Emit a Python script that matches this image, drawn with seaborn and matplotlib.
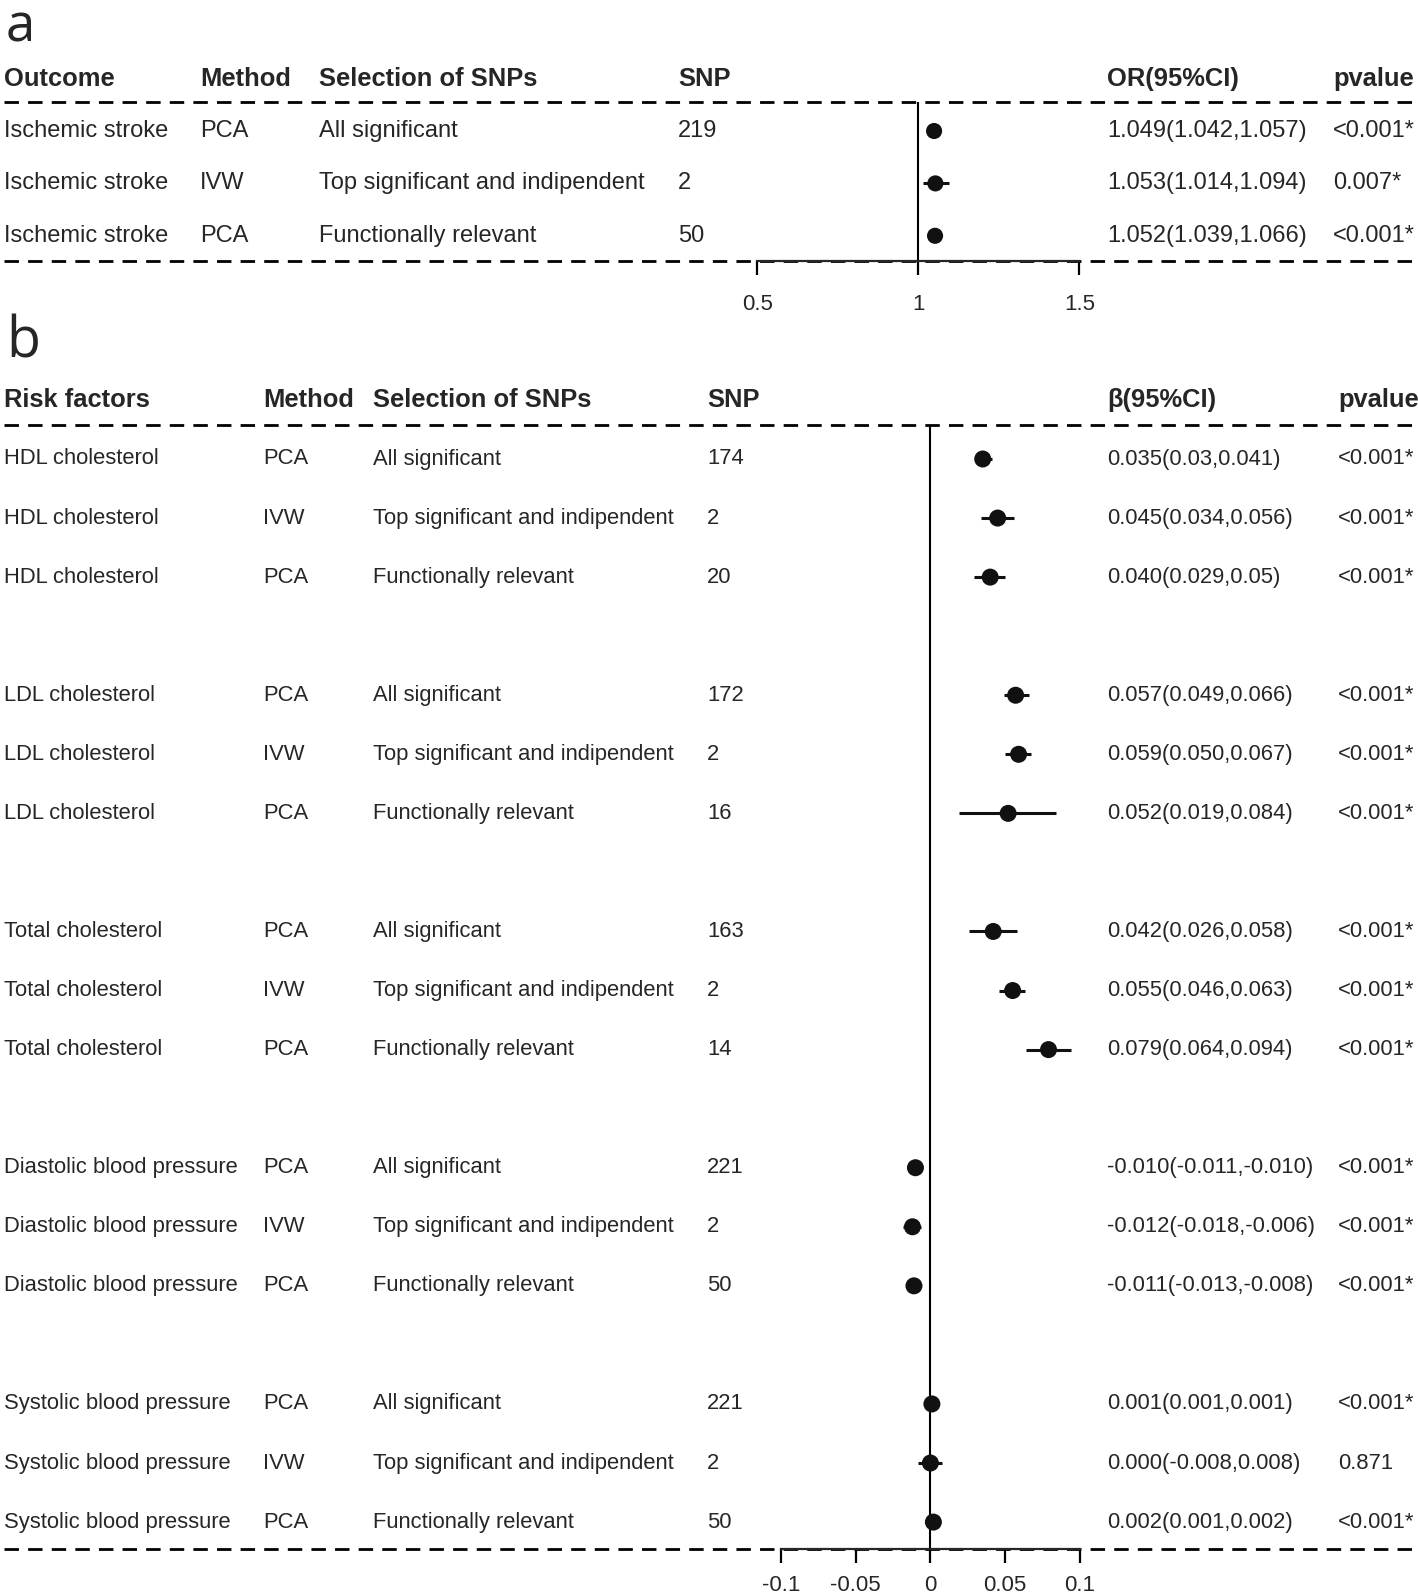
import numpy as np
import pandas as pd
import matplotlib
matplotlib.use("Agg")
import matplotlib.pyplot as plt
import seaborn as sns

# ---- panel a data ----
a_outcome = ['Ischemic stroke', 'Ischemic stroke', 'Ischemic stroke']
a_method = ['PCA', 'IVW', 'PCA']
a_selection = ['All significant', 'Top significant and indipendent', 'Functionally relevant']
a_snp = ['219', '2', '50']
a_or = [1.049, 1.053, 1.052]
a_lo = [1.042, 1.014, 1.039]
a_hi = [1.057, 1.094, 1.066]
a_ci_text = ['1.049(1.042,1.057)', '1.053(1.014,1.094)', '1.052(1.039,1.066)']
a_pval = ['<0.001*', '0.007*', '<0.001*']
a_ticks = [0.5, 1, 1.5]
a_ticklabels = ['0.5', '1', '1.5']

# ---- panel b data ----
b_risk = (['HDL cholesterol'] * 3 + ['LDL cholesterol'] * 3 + ['Total cholesterol'] * 3
          + ['Diastolic blood pressure'] * 3 + ['Systolic blood pressure'] * 3)
b_method = ['PCA', 'IVW', 'PCA'] * 5
b_selection = ['All significant', 'Top significant and indipendent', 'Functionally relevant'] * 5
b_snp = ['174', '2', '20', '172', '2', '16', '163', '2', '14', '221', '2', '50', '221', '2', '50']
b_beta = [0.035, 0.045, 0.040, 0.057, 0.059, 0.052, 0.042, 0.055, 0.079,
          -0.010, -0.012, -0.011, 0.001, 0.000, 0.002]
b_lo = [0.03, 0.034, 0.029, 0.049, 0.050, 0.019, 0.026, 0.046, 0.064,
        -0.011, -0.018, -0.013, 0.001, -0.008, 0.001]
b_hi = [0.041, 0.056, 0.05, 0.066, 0.067, 0.084, 0.058, 0.063, 0.094,
        -0.010, -0.006, -0.008, 0.001, 0.008, 0.002]
b_ci_text = ['0.035(0.03,0.041)', '0.045(0.034,0.056)', '0.040(0.029,0.05)',
             '0.057(0.049,0.066)', '0.059(0.050,0.067)', '0.052(0.019,0.084)',
             '0.042(0.026,0.058)', '0.055(0.046,0.063)', '0.079(0.064,0.094)',
             '-0.010(-0.011,-0.010)', '-0.012(-0.018,-0.006)', '-0.011(-0.013,-0.008)',
             '0.001(0.001,0.001)', '0.000(-0.008,0.008)', '0.002(0.001,0.002)']
b_pval = ['<0.001*'] * 13 + ['0.871', '<0.001*']
b_ticks = [-0.1, -0.05, 0, 0.05, 0.1]
b_ticklabels = ['-0.1', '-0.05', '0', '0.05', '0.1']

sns.set_style('white')
plt.rcParams['font.family'] = ['Liberation Sans', 'DejaVu Sans']

W, H = 1418, 1596
fig = plt.figure(figsize=(W / 100, H / 100), dpi=100)


def add_axes_px(top_px, bottom_px):
    return fig.add_axes([0, 1 - bottom_px / H, 1, (bottom_px - top_px) / H])


def dashed(ax, y):
    ax.axhline(y, xmin=4 / W, xmax=1, color='black', lw=2,
               linestyle=(0, (5.2, 3.3)), clip_on=False, zorder=1)


def table(ax, cols, xs, rows, size):
    tr = ax.get_yaxis_transform()
    for col, x in zip(cols, xs):
        for r, s in zip(rows, col):
            ax.text(x / W, r, s, transform=tr, va='center', ha='left', fontsize=size)


def style_axis(ax, lo, hi, ticks, labels, pad):
    for s in ['top', 'left', 'right']:
        ax.spines[s].set_visible(False)
    ax.spines['bottom'].set_bounds(lo, hi)
    ax.spines['bottom'].set_linewidth(1.6)
    ax.set_xticks(ticks)
    ax.set_xticklabels(labels)
    ax.tick_params(axis='x', bottom=True, direction='out', length=10, width=1.6,
                   pad=pad, labelsize=16, color='black')
    ax.set_yticks([])
    ax.set_xlabel('')
    ax.set_ylabel('')


# ---------------- panel a ----------------
row_a = 52.4
y0_a = 131.0
top_a = (101.8 - y0_a) / row_a
bot_a = (261.0 - y0_a) / row_a
ax_a = add_axes_px(y0_a - 1.5 * row_a, 261.0)
ax_a.set_ylim(bot_a, -1.5)
ax_a.set_xlim(1 - 918.3 / 322.2, 1 + (W - 918.3) / 322.2)
rows_a = np.arange(len(a_or))

ax_a.vlines(1, top_a, bot_a, color='black', lw=1.5, zorder=2)
ax_a.hlines(rows_a, a_lo, a_hi, color='#111111', lw=2.2, zorder=3)
sns.scatterplot(x=a_or, y=rows_a, ax=ax_a, color='#111111', s=135,
                edgecolor='none', zorder=4, legend=False)
dashed(ax_a, top_a)
dashed(ax_a, bot_a)

xs_a = [4, 200, 319, 678, 1107, 1333]
heads_a = ['Outcome', 'Method', 'Selection of SNPs', 'SNP', 'OR(95%CI)', 'pvalue']
for x, h in zip(xs_a, heads_a):
    ax_a.text(x / W, -1, h, transform=ax_a.get_yaxis_transform(), va='center',
              ha='left', fontsize=18.4, fontweight='bold')
table(ax_a, [a_outcome, a_method, a_selection, a_snp, a_ci_text, a_pval], xs_a, rows_a, 17.0)
style_axis(ax_a, 0.5, 1.5, a_ticks, a_ticklabels, pad=14)

# ---------------- panel b ----------------
row_b = 59.06
y0_b = 459.0
top_b = (424.5 - y0_b) / row_b
bot_b = (1548.5 - y0_b) / row_b
pos_b = np.array([g * 4 + k for g in range(5) for k in range(3)])
df_b = pd.DataFrame({'beta': b_beta, 'lo': b_lo, 'hi': b_hi, 'row': pos_b})
ax_b = add_axes_px(y0_b - 1.5 * row_b, 1548.5)
ax_b.set_ylim(bot_b, -1.5)
ax_b.set_xlim(-930.4 / 1495, (W - 930.4) / 1495)

ax_b.vlines(0, top_b, bot_b, color='black', lw=1.5, zorder=2)
ax_b.hlines(df_b['row'], df_b['lo'], df_b['hi'], color='#111111', lw=2.2, zorder=3)
sns.scatterplot(data=df_b, x='beta', y='row', ax=ax_b, color='#111111', s=150,
                edgecolor='none', zorder=4, legend=False)
dashed(ax_b, top_b)
dashed(ax_b, bot_b)

xs_b = [4, 263, 373, 707, 1107, 1338]
heads_b = ['Risk factors', 'Method', 'Selection of SNPs', 'SNP', 'β(95%CI)', 'pvalue']
for x, h in zip(xs_b, heads_b):
    ax_b.text(x / W, -1, h, transform=ax_b.get_yaxis_transform(), va='center',
              ha='left', fontsize=18.4, fontweight='bold')
table(ax_b, [b_risk, b_method, b_selection, b_snp, b_ci_text, b_pval], xs_b, pos_b, 15.8)
style_axis(ax_b, -0.1, 0.1, b_ticks, b_ticklabels, pad=9)

# panel letters
fig.text(6 / W, 1 - 41 / H, 'a', fontsize=38, family='Open Sans', va='baseline', ha='left')
fig.text(6 / W, 1 - 358 / H, 'b', fontsize=40, family='Open Sans', va='baseline', ha='left')

fig.savefig('out.png', dpi=100)
